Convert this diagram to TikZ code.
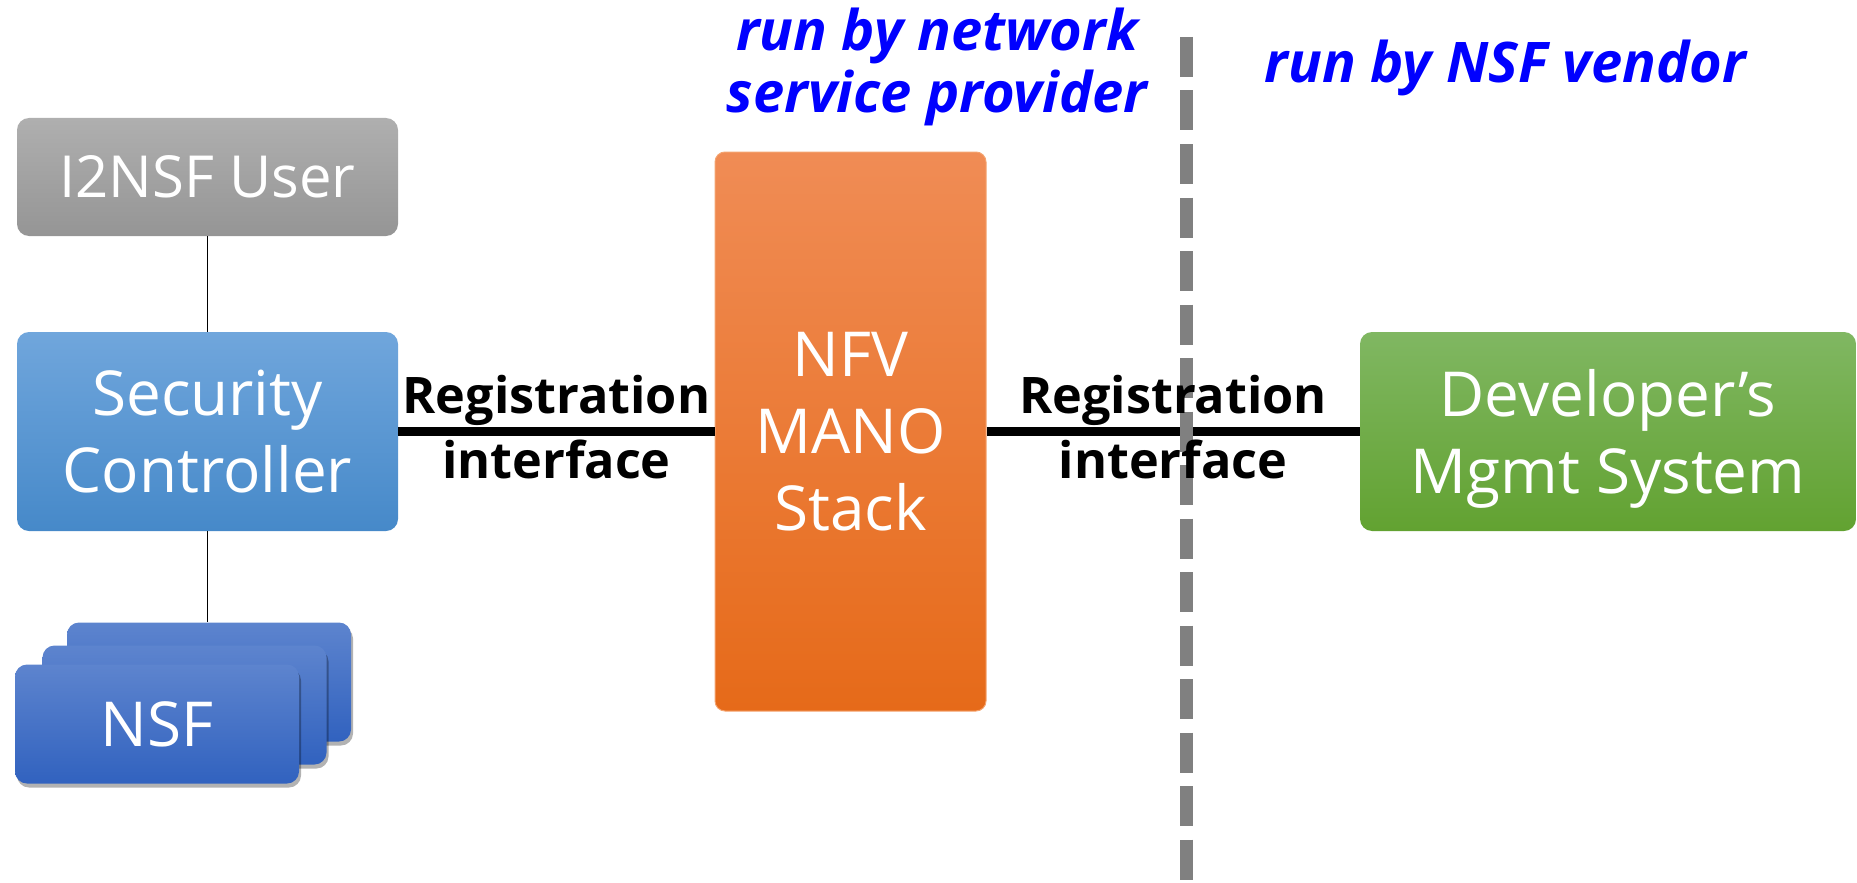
\documentclass[tikz,border=0pt]{standalone}
\usepackage{fontspec}
\setmainfont{Open Sans}
\usetikzlibrary{calc,shadows}
\definecolor{grayT}{HTML}{AFAFAF}
\definecolor{grayB}{HTML}{959595}
\definecolor{scT}{HTML}{70A6DC}
\definecolor{scB}{HTML}{4689C9}
\definecolor{nsfT}{HTML}{5D84CE}
\definecolor{nsfB}{HTML}{3162BF}
\definecolor{orT}{HTML}{F08C55}
\definecolor{orB}{HTML}{E66A19}
\definecolor{orE}{HTML}{F4A470}
\definecolor{grT}{HTML}{80B762}
\definecolor{grB}{HTML}{62A231}
\definecolor{divider}{HTML}{808080}
\definecolor{noteblue}{HTML}{0000FF}
\begin{document}
\begin{tikzpicture}[x=0.5pt,y=-0.5pt,
  box/.style={rounded corners=6pt, text=white, align=center, text depth=0pt,
    inner sep=0pt, font=\fontsize{31}{38.5}\selectfont},
  userbox/.style={box, top color=grayT, bottom color=grayB,
    minimum width=190.5pt, minimum height=59pt, font=\fontsize{29}{36}\selectfont},
  scbox/.style={box, top color=scT, bottom color=scB,
    minimum width=190.5pt, minimum height=99.5pt},
  nsfbox/.style={box, top color=nsfT, bottom color=nsfB,
    minimum width=142pt, minimum height=59.5pt,
    drop shadow={shadow xshift=1pt, shadow yshift=-2pt, opacity=0.3, fill=black}},
  manobox/.style={box, rounded corners=5pt, top color=orT, bottom color=orB,
    draw=orE, line width=0.5pt, minimum width=135.5pt, minimum height=279.5pt},
  devbox/.style={box, top color=grT, bottom color=grB,
    minimum width=248pt, minimum height=99.5pt},
  thin/.style={line width=0.8pt, black},
  thick/.style={line width=4.5pt, black},
  divline/.style={line width=6.5pt, divider, dash pattern=on 20pt off 6.75pt},
  lab/.style={font=\bfseries\fontsize{25.2}{32.5}\selectfont, align=center,
    text depth=0pt, inner sep=0pt},
  note/.style={text=noteblue, font=\bfseries\itshape\fontsize{28}{31}\selectfont,
    align=center, inner sep=0pt}
]
\useasboundingbox (0,0) rectangle (1857,883);

% boxes
\node[userbox] (user) at (207.5,177) {I2NSF User};
\node[scbox] (sc) at (207.5,431.5) {Security\\Controller};
\node[nsfbox] (nsf3) at (209,682) {};
\node[nsfbox] (nsf2) at (184.5,705) {};
\node[nsfbox] (nsf1) at (157,724) {NSF};
\node[manobox] (mano) at (850.5,431.5) {NFV\\MANO\\Stack};
\node[devbox] (dev) at (1608,431.5) {Developer’s\\Mgmt System};

% connectors
\draw[thin] (user.south) -- (sc.north);
\draw[thin] (sc.south) -- (sc.south |- nsf3.north);
\draw[thick] (sc.east) -- (mano.west);
\draw[thick] (mano.east) -- (dev.west);

% divider
\coordinate (divtop) at (1186.5,37);
\coordinate (divbot) at (1186.5,883);
\draw[divline] (divtop) -- (divbot);

% labels
\node[lab] (lab1) at ($(sc.east)!0.5!(mano.west) + (0,-5)$) {Registration\\interface};
\node[lab] (lab2) at ($(mano.east)!0.5!(dev.west) + (0,-5)$) {Registration\\interface};

% notes
\node[note, text depth=0pt] (nsp) at (937,60) {run by network\\service provider};
\node[note, anchor=base] (vendor) at (1505.5,83) {run by NSF vendor};
\end{tikzpicture}
\end{document}
